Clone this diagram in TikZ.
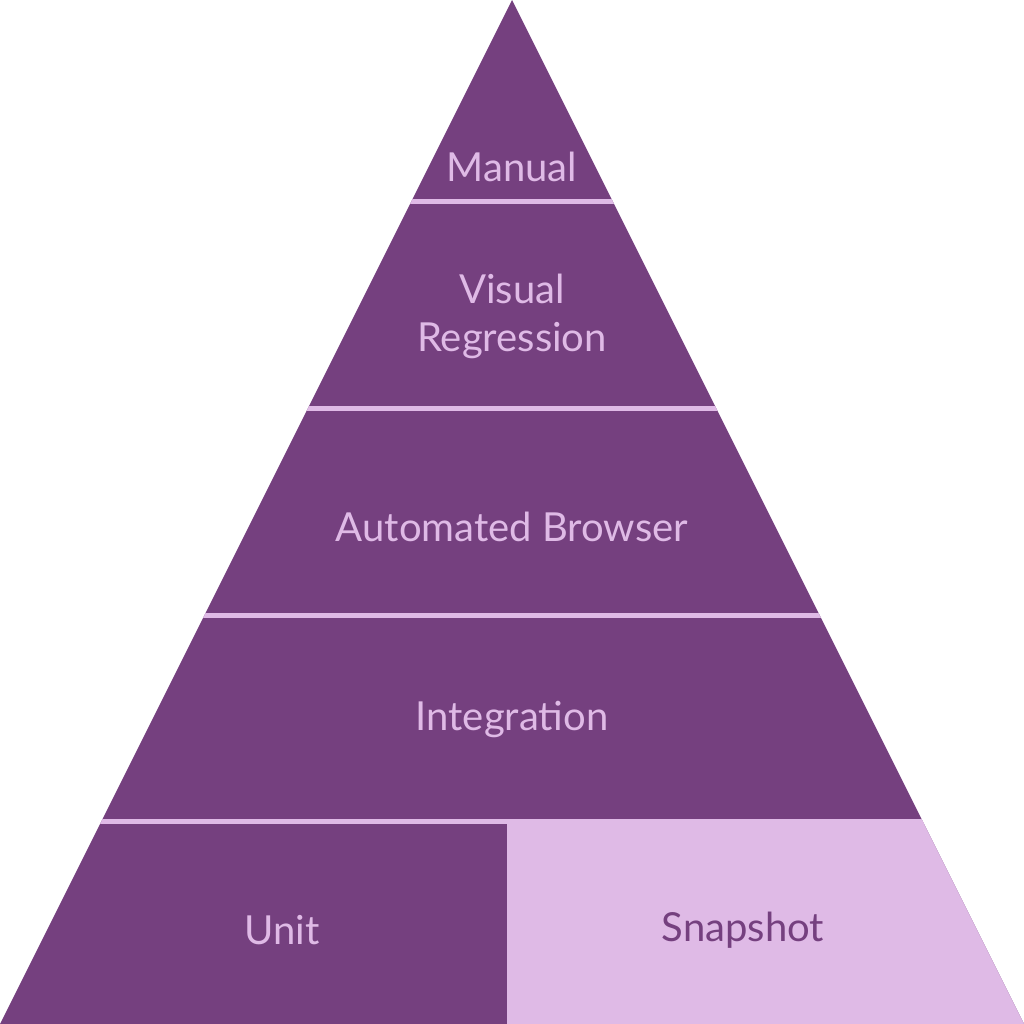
\documentclass[tikz,border=0pt]{standalone}
\usepackage{fontspec}
\setmainfont{Lato}
\definecolor{dark}{HTML}{75407F}
\definecolor{light}{HTML}{DFBAE6}
\begin{document}
\begin{tikzpicture}[x=1pt,y=-1pt,
  lbl/.style={text=light,font=\fontsize{40}{48}\selectfont,align=center,inner sep=0pt},
  sep/.style={draw=light,line width=5pt}]
\useasboundingbox (0,0) rectangle (1024,1024);
\coordinate (apex) at (512,0);
\coordinate (bl) at (0,1024);
\coordinate (br) at (1024,1024);
\fill[dark] (apex) -- (br) -- (bl) -- cycle;
\fill[light] (507,821) -- (922.5,821) -- (br) -- (507,1024) -- cycle;
\begin{scope}
\clip (apex) -- (br) -- (bl) -- cycle;
\foreach \y in {202,408,615,821} \draw[sep] (0,\y) -- (1024,\y);
\end{scope}
\node[lbl] (manual) at (512,167) {Manual};
\node[lbl] (visual) at (512,316) {Visual\\Regression};
\node[lbl] (auto) at (512,527) {Automated Browser};
\node[lbl] (integ) at (512,719) {Integration};
\node[lbl] (unit) at (282,930) {Unit};
\node[lbl,text=dark] (snap) at (743,930) {Snapshot};
\end{tikzpicture}
\end{document}
